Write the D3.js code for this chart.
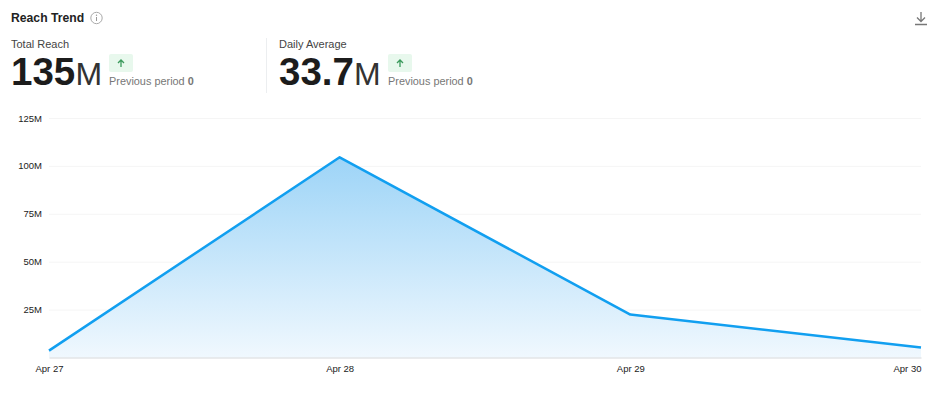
<!DOCTYPE html>
<html>
<head>
<meta charset="utf-8">
<script src="https://cdn.jsdelivr.net/npm/d3@7"></script>
<style>
html, body { margin: 0; padding: 0; background: #fff; overflow: hidden; }
text { font-family: "Liberation Sans", Arial, sans-serif; }
</style>
</head>
<body>
<div id="container"></div>
<script>
const width = 935, height = 393;

const dates = ["Apr 27", "Apr 28", "Apr 29", "Apr 30"];
const reach = [3.6, 104.5, 22.4, 5.2];
const yTicks = [25, 50, 75, 100, 125];

const svg = d3.select("#container").append("svg")
    .attr("width", width)
    .attr("height", height)
    .style("display", "block");

const x = d3.scalePoint().domain(dates).range([49, 921]);
const y = d3.scaleLinear().domain([0, 125]).range([357.5, 118]);

// gradient under the line
const grad = svg.append("defs").append("linearGradient")
    .attr("id", "areaFill")
    .attr("gradientUnits", "userSpaceOnUse")
    .attr("x1", 0).attr("x2", 0)
    .attr("y1", y(104.5)).attr("y2", y(0));
grad.append("stop").attr("offset", 0).attr("stop-color", "#9dd4f7");
grad.append("stop").attr("offset", 1).attr("stop-color", "#f0f8fe");

// y axis, labels and gridlines
const yAxis = svg.append("g")
    .attr("transform", "translate(49,0)")
    .call(d3.axisLeft(y).tickValues(yTicks).tickFormat(d => d + "M").tickSize(-872).tickPadding(7));
yAxis.select(".domain").remove();
yAxis.selectAll("line").attr("stroke", "#f5f5f5");
yAxis.selectAll("text").attr("fill", "#222").style("font-size", "9.5px").style("font-family", "Liberation Sans");

const area = d3.area()
    .x((d, i) => x(dates[i]))
    .y0(y(0))
    .y1(d => y(d));
const line = d3.line()
    .x((d, i) => x(dates[i]))
    .y(d => y(d));

svg.append("path").datum(reach).attr("d", area).attr("fill", "url(#areaFill)");
svg.append("path").datum(reach)
    .attr("d", line)
    .attr("fill", "none")
    .attr("stroke", "#119ff0")
    .attr("stroke-width", 2.5)
    .attr("stroke-linejoin", "round");

// x axis
const xAxis = svg.append("g")
    .attr("transform", `translate(0,${y(0)})`)
    .call(d3.axisBottom(x).tickSize(0).tickPadding(8));
xAxis.select(".domain").attr("stroke", "#d5d8db");
xAxis.selectAll("text").attr("fill", "#222").style("font-size", "9.5px").style("font-family", "Liberation Sans")
    .attr("text-anchor", (d, i) => i == 3 ? "end" : i == 0 ? "start" : "middle")
    .attr("dx", (d, i) => i == 0 ? -14 : 0);

// header
svg.append("text").attr("x", 11).attr("y", 22)
    .attr("fill", "#222").style("font-size", "12.2px").style("font-weight", 700)
    .text("Reach Trend");

const info = svg.append("g").attr("transform", "translate(96.5,18)");
info.append("circle").attr("r", 5.7).attr("fill", "none").attr("stroke", "#aaa");
info.append("line").attr("y1", -1).attr("y2", 3).attr("stroke", "#999");
info.append("circle").attr("cy", -2.8).attr("r", 0.7).attr("fill", "#999");

// download icon
svg.append("path")
    .attr("d", "M921 12V21M917 17.5L921 21.5L925 17.5M915 24.5H927")
    .attr("fill", "none")
    .attr("stroke", "#777")
    .attr("stroke-width", 1.3);

svg.append("line")
    .attr("x1", 266.5).attr("x2", 266.5).attr("y1", 38).attr("y2", 93)
    .attr("stroke", "#eceef0");

function metric(x0, label, value, numWidth, pillX) {
    const g = svg.append("g").attr("transform", `translate(${x0},0)`);
    g.append("text").attr("x", 0).attr("y", 47.5)
        .attr("fill", "#444").style("font-size", "11px").text(label);
    g.append("text").attr("x", 0).attr("y", 84.5)
        .attr("fill", "#1c1c1c").style("font-size", "38.5px").style("font-weight", 700).text(value);
    g.append("text").attr("x", numWidth).attr("y", 84.5)
        .attr("fill", "#333").style("font-size", "32px").text("M");
    g.append("rect").attr("x", pillX).attr("y", 54).attr("width", 24).attr("height", 18).attr("rx", 2)
        .attr("fill", "#e8f8ed");
    g.append("path")
        .attr("d", `M${pillX + 12} 67V60M${pillX + 9} 63L${pillX + 12} 60L${pillX + 15} 63`)
        .attr("fill", "none").attr("stroke", "#3b9a5c").attr("stroke-width", 1.3);
    const prev = g.append("text").attr("x", pillX).attr("y", 85)
        .attr("fill", "#777").style("font-size", "10.9px");
    prev.append("tspan").text("Previous period ");
    prev.append("tspan").style("font-weight", 700).text("0");
}

metric(11, "Total Reach", "135", 64.5, 98);
metric(279, "Daily Average", "33.7", 75, 109);
</script>
</body>
</html>
